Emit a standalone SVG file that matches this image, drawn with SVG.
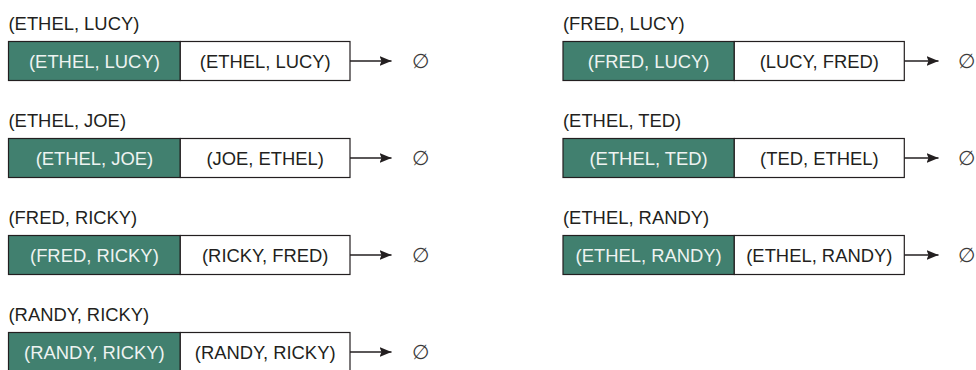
<svg xmlns="http://www.w3.org/2000/svg" width="976" height="370" viewBox="0 0 976 370">
  <defs>
    <marker id="arrow" viewBox="0 0 12 10" refX="12" refY="5" markerWidth="12" markerHeight="10" markerUnits="userSpaceOnUse" orient="auto">
      <path d="M0,0 L12,5 L0,10 L2,5 Z" fill="#231f20"/>
    </marker>
    <style>
      text { font-family: "Liberation Sans", Arial, sans-serif; font-size: 18.4px; fill: #231f20; }
      .title { text-anchor: start; }
      .key { fill: #eef3f1; text-anchor: middle; }
      .val { text-anchor: middle; }
      .null { font-family: "DejaVu Sans", sans-serif; font-size: 20px; font-weight: 300; text-anchor: middle; fill: #3a3a3a; }
      .keycell { fill: #41806f; stroke: #231f20; stroke-width: 1.2; }
      .valcell { fill: #ffffff; stroke: #231f20; stroke-width: 1.2; }
      .link { stroke: #231f20; stroke-width: 1.3; fill: none; }
    </style>
  </defs>
  <rect width="976" height="370" fill="#ffffff"/>

  <!-- Left column -->
  <g id="node-ethel-lucy">
    <text class="title" x="8.5" y="30">(ETHEL, LUCY)</text>
    <rect class="keycell" x="8.5" y="41.5" width="171.8" height="39"/>
    <rect class="valcell" x="180.3" y="41.5" width="169.7" height="39"/>
    <text class="key" x="94.4" y="68">(ETHEL, LUCY)</text>
    <text class="val" x="265.2" y="68">(ETHEL, LUCY)</text>
    <text class="null" x="420" y="67.5">∅</text>
  </g>
  <g id="node-ethel-joe">
    <text class="title" x="8.5" y="127">(ETHEL, JOE)</text>
    <rect class="keycell" x="8.5" y="138.5" width="171.8" height="39"/>
    <rect class="valcell" x="180.3" y="138.5" width="169.7" height="39"/>
    <text class="key" x="94.4" y="165">(ETHEL, JOE)</text>
    <text class="val" x="265.2" y="165">(JOE, ETHEL)</text>
    <text class="null" x="420" y="164.5">∅</text>
  </g>
  <g id="node-fred-ricky">
    <text class="title" x="8.5" y="224">(FRED, RICKY)</text>
    <rect class="keycell" x="8.5" y="235.5" width="171.8" height="39"/>
    <rect class="valcell" x="180.3" y="235.5" width="169.7" height="39"/>
    <text class="key" x="94.4" y="262">(FRED, RICKY)</text>
    <text class="val" x="265.2" y="262">(RICKY, FRED)</text>
    <text class="null" x="420" y="261.5">∅</text>
  </g>
  <g id="node-randy-ricky">
    <text class="title" x="8.5" y="321">(RANDY, RICKY)</text>
    <rect class="keycell" x="8.5" y="332.5" width="171.8" height="39"/>
    <rect class="valcell" x="180.3" y="332.5" width="169.7" height="39"/>
    <text class="key" x="94.4" y="359">(RANDY, RICKY)</text>
    <text class="val" x="265.2" y="359">(RANDY, RICKY)</text>
    <text class="null" x="420" y="358.5">∅</text>
  </g>

  <!-- Right column -->
  <g id="node-fred-lucy">
    <text class="title" x="563" y="30">(FRED, LUCY)</text>
    <rect class="keycell" x="563" y="41.5" width="171.3" height="39"/>
    <rect class="valcell" x="734.3" y="41.5" width="170" height="39"/>
    <text class="key" x="648.6" y="68">(FRED, LUCY)</text>
    <text class="val" x="819.3" y="68">(LUCY, FRED)</text>
    <text class="null" x="966" y="67.5">∅</text>
  </g>
  <g id="node-ethel-ted">
    <text class="title" x="563" y="127">(ETHEL, TED)</text>
    <rect class="keycell" x="563" y="138.5" width="171.3" height="39"/>
    <rect class="valcell" x="734.3" y="138.5" width="170" height="39"/>
    <text class="key" x="648.6" y="165">(ETHEL, TED)</text>
    <text class="val" x="819.3" y="165">(TED, ETHEL)</text>
    <text class="null" x="966" y="164.5">∅</text>
  </g>
  <g id="node-ethel-randy">
    <text class="title" x="563" y="224">(ETHEL, RANDY)</text>
    <rect class="keycell" x="563" y="235.5" width="171.3" height="39"/>
    <rect class="valcell" x="734.3" y="235.5" width="170" height="39"/>
    <text class="key" x="648.6" y="262">(ETHEL, RANDY)</text>
    <text class="val" x="819.3" y="262">(ETHEL, RANDY)</text>
    <text class="null" x="966" y="261.5">∅</text>
  </g>

  <!-- Links from each entry to its empty next pointer -->
  <g id="connectors">
    <line class="link" x1="350" y1="61" x2="391.5" y2="61" marker-end="url(#arrow)"/>
    <line class="link" x1="350" y1="158" x2="391.5" y2="158" marker-end="url(#arrow)"/>
    <line class="link" x1="350" y1="255" x2="391.5" y2="255" marker-end="url(#arrow)"/>
    <line class="link" x1="350" y1="352" x2="391.5" y2="352" marker-end="url(#arrow)"/>
    <line class="link" x1="904.3" y1="61" x2="938.5" y2="61" marker-end="url(#arrow)"/>
    <line class="link" x1="904.3" y1="158" x2="938.5" y2="158" marker-end="url(#arrow)"/>
    <line class="link" x1="904.3" y1="255" x2="938.5" y2="255" marker-end="url(#arrow)"/>
  </g>
</svg>
